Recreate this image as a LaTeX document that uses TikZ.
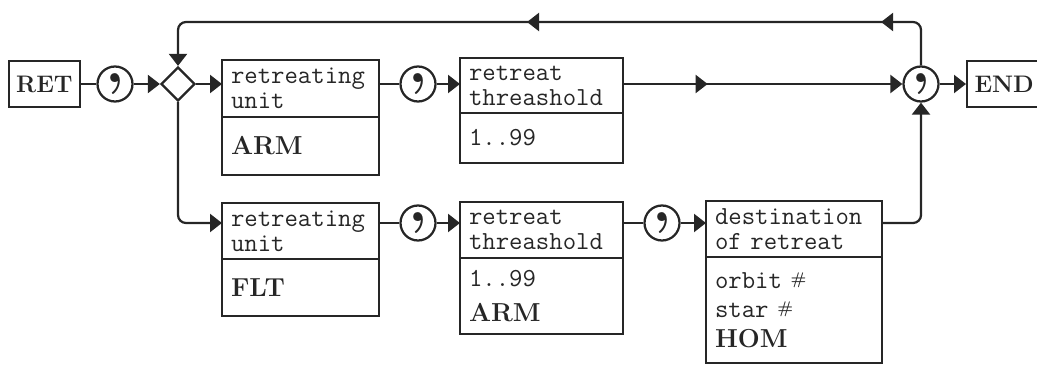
\documentclass[tikz,border=0pt]{standalone}
\usepackage{fontspec}
\usetikzlibrary{arrows.meta,positioning,shapes.geometric,decorations.markings}

\newcommand{\kw}[1]{{\fontsize{18.5}{17.8}\selectfont\rmfamily\bfseries #1}}
\newcommand{\numsign}{{\fontsize{12}{12}\selectfont\rmfamily\bfseries\raisebox{3pt}{\#}}}

\begin{document}
\begin{tikzpicture}[
    line width=1.6pt, color=black!85,
    every node/.style={font=\fontsize{18.5}{17.8}\selectfont\ttfamily},
    tag/.style={draw, minimum width=1.775cm, minimum height=1.15cm, inner sep=0pt,
        font=\fontsize{17}{17.8}\selectfont\rmfamily\bfseries},
    sep/.style={draw, circle, minimum size=0.875cm, inner sep=0pt,
        font=\fontsize{44}{44}\selectfont\rmfamily\bfseries},
    fork/.style={draw, diamond, minimum width=0.85cm, minimum height=0.85cm, inner sep=0pt},
    box/.style={draw, outer sep=0pt, inner xsep=0.225cm, inner ysep=0pt, align=left},
    arr/.style={-{Triangle[length=0.3cm,width=0.45cm]}},
    midarr/.style={postaction={decorate}, decoration={markings,
        mark=at position #1 with {\arrow{Triangle[length=0.3cm,width=0.45cm]}}}},
    loopmarks/.style={postaction={decorate}, decoration={markings,
        mark=at position 0.097 with {\arrow{Triangle[length=0.3cm,width=0.45cm]}},
        mark=at position 0.527 with {\arrow{Triangle[length=0.3cm,width=0.45cm]}}}}
]
    \useasboundingbox (0,0) rectangle (25.925,-9.15);

    % start, first separator and fork
    \node[tag] (ret) at (1.11,-2.1) {RET};
    \node[sep] (c1) at (2.875,-2.1) {,};
    \node[fork] (dia) at (4.45,-2.1) {};

    % upper branch
    \node[box, anchor=north west, text width=3.475cm, minimum height=1.425cm] (u1h) at (5.55,-1.5) {retreating\\unit};
    \node[box, text width=3.475cm, minimum height=1.45cm, below=0pt of u1h] (u1b) {\kw{ARM}};
    \node[sep] (c2) at (10.45,-2.1) {,};
    \node[box, anchor=north west, text width=3.625cm, minimum height=1.375cm] (t1h) at (11.5,-1.45) {retreat\\threashold};
    \node[box, text width=3.625cm, minimum height=1.25cm, below=0pt of t1h] (t1b) {1..99};

    % join and end
    \node[sep] (c3) at (23.025,-2.1) {,};
    \node[tag, anchor=west, minimum width=1.85cm] (endb) at (24.15,-2.1) {END};
    \coordinate (top) at (0,-0.55);

    % lower branch
    \node[box, anchor=north west, text width=3.475cm, minimum height=1.4cm] (u2h) at (5.55,-5.075) {retreating\\unit};
    \node[box, text width=3.475cm, minimum height=1.425cm, below=0pt of u2h] (u2b) {\kw{FLT}};
    \node[sep] (c4) at (10.45,-5.575) {,};
    \node[box, anchor=north west, text width=3.625cm, minimum height=1.4cm] (t2h) at (11.5,-5.05) {retreat\\threashold};
    \node[box, text width=3.625cm, minimum height=1.9cm, below=0pt of t2h] (t2b) {1..99\\[7pt]\kw{ARM}};
    \node[sep] (c5) at (16.55,-5.575) {,};
    \node[box, anchor=north west, text width=3.95cm, minimum height=1.4cm] (dh) at (17.65,-5.025) {destination\\of retreat};
    \node[box, text width=3.95cm, minimum height=2.65cm, below=0pt of dh] (db) {orbit \numsign\\[3pt]star \numsign\\[3pt]\kw{HOM}};

    % connectors
    \draw (ret) -- (c1);
    \draw[arr] (c1) -- (dia.west);
    \draw[arr] (dia.east) -- (dia -| u1h.west);
    \draw (u1h.east |- c2) -- (c2);
    \draw[arr] (c2) -- (c2 -| t1h.west);
    \draw[arr, midarr=0.303] (t1h.east |- c3) -- (c3);
    \draw[arr] (c3) -- (c3 -| endb.west);
    \draw[arr, rounded corners=0.2cm, loopmarks] (c3.north) -- (c3.north |- top) -- (dia.north |- top) -- (dia.north);

    \draw[arr, rounded corners=0.2cm] (dia.south) |- (u2h.west |- c4);
    \draw (u2h.east |- c4) -- (c4);
    \draw[arr] (c4) -- (c4 -| t2h.west);
    \draw (t2h.east |- c5) -- (c5);
    \draw[arr] (c5) -- (c5 -| dh.west);
    \draw[arr, rounded corners=0.2cm] (dh.east |- c5) -| (c3.south);
\end{tikzpicture}
\end{document}
